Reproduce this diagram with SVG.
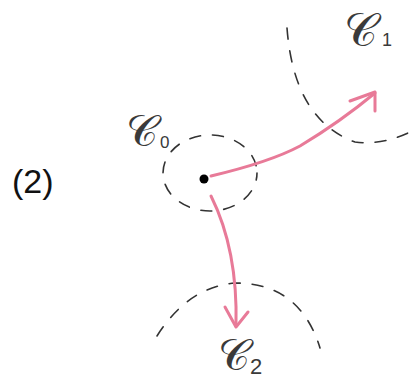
<svg xmlns="http://www.w3.org/2000/svg" width="419" height="384" viewBox="0 0 419 384">
<style>
.dash{fill:none;stroke:#333;stroke-width:1.6;stroke-dasharray:11 12;stroke-linecap:round}
.arr{fill:none;stroke:#e87a98;stroke-width:3;stroke-linecap:round;stroke-linejoin:round}
.lbl{font-family:"DejaVu Serif","Liberation Serif",serif;fill:#3a3a3a}
.sub{font-family:"Liberation Sans",sans-serif}
</style>
<rect width="419" height="384" fill="#ffffff"/>
<text x="12" y="193" font-family="Liberation Sans, sans-serif" font-size="34" fill="#111">(2)</text>
<g id="c0">
<ellipse class="dash" cx="210" cy="173" rx="47" ry="38" stroke-dashoffset="4"/>
<circle cx="204" cy="179" r="4.5" fill="#000"/>
<text class="lbl" x="126" y="146" font-size="44">𝒞<tspan class="sub" font-size="17" dx="2" dy="2">0</tspan></text>
</g>
<g id="c1">
<path class="dash" d="M287,28 Q294,120 355,142 Q385,146 418,128"/>
<text class="lbl" x="344" y="46" font-size="46">𝒞<tspan class="sub" font-size="18" dx="4">1</tspan></text>
</g>
<g id="c2">
<path class="dash" d="M157,336 Q188,287 235,283 Q300,283 320,348"/>
<text class="lbl" x="218" y="370" font-size="44">𝒞<tspan class="sub" font-size="22" dx="0" dy="4">2</tspan></text>
</g>
<g id="connectors">
<path class="arr" d="M211,176 Q270,162 300,146 Q340,122 375,93"/>
<path class="arr" d="M350,101 L375,92 L375,111"/>
<path class="arr" d="M211,196 Q238,250 236,326"/>
<path class="arr" d="M225,307 L236,327 L248,312"/>
</g>
</svg>
